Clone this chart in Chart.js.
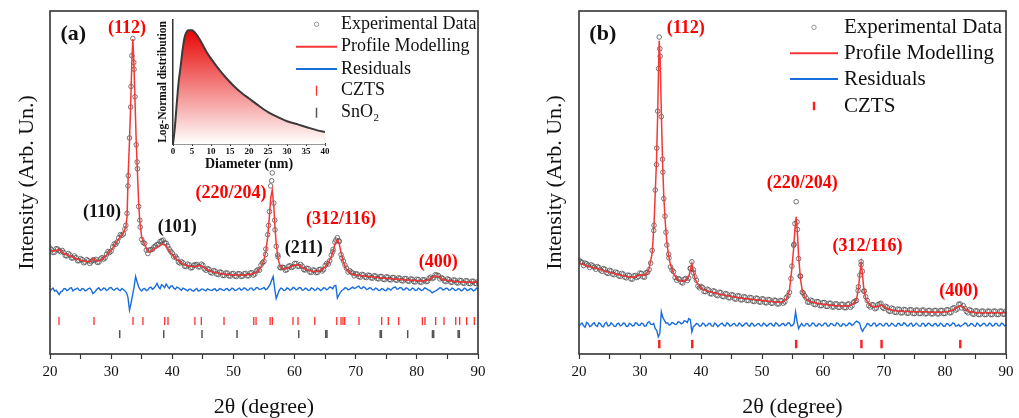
<!DOCTYPE html>
<html>
<head>
<meta charset="utf-8">
<script src="https://cdn.jsdelivr.net/npm/chart.js@4.4.0/dist/chart.umd.min.js"></script>
<style>
  html, body { margin: 0; padding: 0; background: #fff; }
  #wrap { position: relative; width: 1019px; height: 418px; background: #fff; }
  canvas { position: absolute; top: 0; }
  #chartA { left: 0; }
  #chartB { left: 510px; }
  #inset { left: 140px; }
</style>
</head>
<body>
<div id="wrap">
  <canvas id="chartA" width="510" height="418"></canvas>
  <canvas id="chartB" width="509" height="418"></canvas>
  <canvas id="inset" width="200" height="175"></canvas>
</div>
<script>
// ---- panel (a) : 2theta grid, profile fit, measured points ----
var aTheta = [
  20,20.5,21,21.5,22,22.5,23,23.5,24,24.5,
  25,25.5,26,26.5,27,27.5,28,28.5,29,29.5,
  30,30.5,31,31.5,32,32.4,32.6,32.8,33.0,33.2,
  33.4,33.55,33.7,33.9,34.1,34.3,34.5,34.7,35,35.5,
  36,36.5,37,37.5,38,38.5,39,39.5,40,40.5,
  41,41.5,42,42.5,43,43.5,44,44.5,45,45.5,
  46,46.5,47,47.5,48,48.5,49,49.5,50,50.5,
  51,51.5,52,52.5,53,53.5,54,54.5,55,55.3,
  55.6,55.9,56.1,56.35,56.6,56.8,57.0,57.3,57.6,58,
  58.5,59,59.5,60,60.5,61,61.5,62,62.5,63,
  63.5,64,64.5,65,65.5,66,66.3,66.6,67.0,67.3,
  67.6,68,68.5,69,69.5,70,70.5,71,71.5,72,
  72.5,73,73.5,74,74.5,75,75.5,76,76.5,77,
  77.5,78,78.5,79,79.5,80,80.5,81,81.5,82,
  82.5,83,83.5,84,84.5,85,85.5,86,86.5,87,
  87.5,88,88.5,89,89.5,90
];
var aModel = [
  30.3,30.0,30.2,30.5,29.6,29.1,28.8,28.4,28.0,27.6,
  27.3,27.1,27.0,26.9,27.9,27.1,27.2,27.6,28.3,29.4,
  30.3,31.6,33.0,34.2,35.3,37.0,40.0,53.0,62.0,73.0,
  86.0,91.8,86.0,74.0,62.0,53.0,44.0,38.5,34.0,31.8,
  29.8,29.9,30.6,31.0,31.6,32.1,31.5,30.0,29.0,28.0,
  27.2,26.5,26.0,25.7,25.5,25.5,25.6,25.8,25.4,24.8,
  24.3,24.0,23.8,23.6,23.4,23.3,23.2,23.1,23.1,23.0,
  23.0,23.0,23.1,23.2,23.3,23.6,24.2,25.4,27.5,30.0,
  34.0,40.5,45.5,47.8,43.0,37.0,32.0,27.8,25.8,24.9,
  24.8,25.2,25.6,25.9,26.0,25.6,25.0,24.6,24.3,24.1,
  24.0,24.2,24.6,25.4,26.6,28.3,30.0,32.0,33.4,32.2,
  29.5,26.6,24.6,23.8,23.2,23.0,22.9,22.8,22.7,22.6,
  22.5,22.4,22.3,22.2,22.1,22.1,22.0,21.9,21.9,21.8,
  21.7,21.6,21.6,21.5,21.4,21.4,21.3,21.3,21.4,21.7,
  22.3,22.7,22.5,21.9,21.6,21.5,21.3,21.2,21.1,21.1,
  21.0,21.0,20.9,20.9,20.9,20.9
];
var aExp = [
  30.9,29.6,30.7,30.1,30.2,28.7,29.3,28.0,28.6,27.2,
  27.8,26.6,27.5,26.4,27.4,27.6,26.8,28.1,28.0,29.9,
  30.0,32.1,32.7,34.8,35.0,37.5,41.0,52.0,63.0,72.0,
  87.0,92.0,85.0,75.0,61.0,54.0,43.0,39.0,33.4,32.2,
  29.3,30.4,31.2,31.9,32.8,33.2,32.3,30.6,29.4,28.5,
  26.8,26.9,25.6,26.2,25.1,25.9,26.1,25.4,25.9,24.4,
  24.7,23.6,24.2,23.2,23.8,22.9,23.6,22.7,23.5,22.6,
  23.4,22.7,23.5,22.8,23.7,23.3,24.6,25.9,27.0,30.6,
  34.8,41.5,49.0,52.8,44.0,36.2,31.4,28.3,25.3,25.3,
  24.4,25.6,25.2,26.4,25.6,26.1,24.6,25.0,23.9,24.5,
  23.7,24.6,24.2,25.8,26.2,28.8,30.5,32.6,33.9,32.8,
  29.0,27.1,25.0,24.3,23.6,23.4,22.6,23.2,22.4,23.0,
  22.2,22.8,22.0,22.6,21.8,22.5,21.7,22.3,21.6,22.2,
  21.4,22.0,21.3,21.9,21.1,21.8,21.0,21.7,21.1,22.1,
  22.0,23.1,22.9,22.3,21.3,21.9,21.0,21.6,20.8,21.5,
  20.7,21.4,20.6,21.2,20.6,21.1
];

// ---- 0.5 deg grid (residuals) and the in-between 0.25 offsets ----
var residTheta = [
  20,20.5,21,21.5,22,22.5,23,23.5,24,24.5,
  25,25.5,26,26.5,27,27.5,28,28.5,29,29.5,
  30,30.5,31,31.5,32,32.5,33,33.5,34,34.5,
  35,35.5,36,36.5,37,37.5,38,38.5,39,39.5,
  40,40.5,41,41.5,42,42.5,43,43.5,44,44.5,
  45,45.5,46,46.5,47,47.5,48,48.5,49,49.5,
  50,50.5,51,51.5,52,52.5,53,53.5,54,54.5,
  55,55.5,56,56.5,57,57.5,58,58.5,59,59.5,
  60,60.5,61,61.5,62,62.5,63,63.5,64,64.5,
  65,65.5,66,66.5,67,67.5,68,68.5,69,69.5,
  70,70.5,71,71.5,72,72.5,73,73.5,74,74.5,
  75,75.5,76,76.5,77,77.5,78,78.5,79,79.5,
  80,80.5,81,81.5,82,82.5,83,83.5,84,84.5,
  85,85.5,86,86.5,87,87.5,88,88.5,89,89.5,
  90
];
var midTheta = [
  20.25,20.75,21.25,21.75,22.25,22.75,23.25,23.75,24.25,24.75,
  25.25,25.75,26.25,26.75,27.25,27.75,28.25,28.75,29.25,29.75,
  30.25,30.75,31.25,31.75,32.25,32.75,33.25,33.75,34.25,34.75,
  35.25,35.75,36.25,36.75,37.25,37.75,38.25,38.75,39.25,39.75,
  40.25,40.75,41.25,41.75,42.25,42.75,43.25,43.75,44.25,44.75,
  45.25,45.75,46.25,46.75,47.25,47.75,48.25,48.75,49.25,49.75,
  50.25,50.75,51.25,51.75,52.25,52.75,53.25,53.75,54.25,54.75,
  55.25,55.75,56.25,56.75,57.25,57.75,58.25,58.75,59.25,59.75,
  60.25,60.75,61.25,61.75,62.25,62.75,63.25,63.75,64.25,64.75,
  65.25,65.75,66.25,66.75,67.25,67.75,68.25,68.75,69.25,69.75,
  70.25,70.75,71.25,71.75,72.25,72.75,73.25,73.75,74.25,74.75,
  75.25,75.75,76.25,76.75,77.25,77.75,78.25,78.75,79.25,79.75,
  80.25,80.75,81.25,81.75,82.25,82.75,83.25,83.75,84.25,84.75,
  85.25,85.75,86.25,86.75,87.25,87.75,88.25,88.75,89.25,89.75
];
var aExpMid = [
  30.4,29.7,30.6,29.8,29.6,28.6,28.9,28.0,28.1,27.2,
  27.5,26.8,27.2,26.9,27.3,26.7,27.7,27.7,29.1,29.6,
  31.2,32.0,33.9,34.6,36.4,49.0,78.0,83.0,56.0,37.0,
  32.5,30.3,30.3,30.5,31.5,32.0,33.0,32.4,31.5,29.9,
  28.3,27.9,26.5,26.6,25.5,26.0,25.2,26.0,25.4,26.2,
  24.8,24.9,23.8,24.3,23.3,23.9,22.9,23.6,22.8,23.4,
  22.7,23.4,22.6,23.4,22.8,23.6,23.0,24.2,24.4,26.6,
  29.0,37.5,50.5,39.0,28.9,25.1,25.2,24.6,25.7,25.4,
  26.4,25.5,25.6,24.5,24.9,23.8,24.4,23.8,24.7,24.6,
  26.4,27.2,29.8,33.2,33.0,28.0,25.9,23.9,23.9,22.8,
  23.3,22.4,23.1,22.3,22.9,22.1,22.7,21.9,22.6,21.7,
  22.4,21.6,22.3,21.5,22.1,21.3,22.0,21.2,21.8,21.0,
  21.7,20.9,21.6,21.2,22.4,22.2,23.0,21.9,22.0,21.1,
  21.7,20.9,21.5,20.7,21.4,20.6,21.3,20.5,21.2,20.5
];
var aResid = [
  18.4,19.2,18.6,17.3,18.3,19.1,18.7,19.3,18.8,19.2,
  18.5,19.0,18.6,19.2,17.6,18.5,19.3,18.7,19.1,18.8,
  19.4,18.6,19.2,18.5,18.8,17.9,12.8,17.2,22.6,19.6,
  18.4,19.1,18.7,19.5,19.2,20.6,19.0,19.8,20.4,19.1,
  19.9,18.9,19.3,18.6,19.0,18.4,18.9,18.3,19.1,18.5,
  18.9,18.4,18.8,18.5,19.0,18.6,18.9,18.5,19.1,18.7,
  19.0,18.6,19.2,18.8,19.1,18.7,19.2,18.8,19.3,18.9,
  19.4,19.0,20.3,22.6,16.2,18.6,19.0,18.6,19.1,18.8,
  19.2,18.9,19.3,18.7,19.0,18.6,19.1,18.7,19.0,18.8,
  19.2,19.0,19.4,19.9,16.3,18.0,18.8,19.2,18.9,19.5,
  19.3,19.8,19.1,19.4,18.9,19.2,18.7,19.0,18.6,18.9,
  18.5,18.9,19.1,19.5,19.0,19.3,18.8,19.1,18.7,19.0,
  18.6,18.9,18.7,19.1,18.6,17.8,18.3,18.9,19.2,18.8,
  19.1,18.7,19.0,18.6,18.9,18.6,19.0,18.7,18.9,18.6,
  18.9
];
var aResidMid = [
  18.9,18.3,18.0,18.1,19.0,18.5,19.2,18.4,19.0,18.6,
  19.1,18.4,19.0,18.7,17.9,19.0,18.6,19.2,18.5,19.3,
  18.8,19.0,18.7,19.1,18.4,16.5,14.8,19.5,21.0,18.8,
  19.0,18.5,19.3,18.9,19.8,19.6,20.2,19.3,19.7,19.8,
  19.2,19.5,18.9,19.2,18.7,18.9,18.5,18.8,18.4,18.9,
  18.6,19.0,18.6,18.9,18.4,19.1,18.6,19.0,18.5,19.2,
  18.5,19.0,18.6,19.3,18.6,19.2,18.6,19.4,18.8,19.1,
  18.8,19.6,21.5,19.0,17.4,19.2,18.5,19.3,18.6,19.4,
  18.7,19.4,18.6,19.2,18.5,19.3,18.6,19.2,18.5,19.3,
  18.7,19.5,19.0,20.0,17.2,18.6,19.3,18.7,19.2,19.1,
  19.6,19.2,19.6,18.8,19.3,18.7,19.2,18.5,19.1,18.5,
  19.2,18.6,19.4,18.9,19.4,18.7,19.3,18.6,19.2,18.5,
  19.2,18.5,19.3,18.8,18.3,18.1,18.6,19.3,18.7,19.2,
  18.6,19.2,18.5,19.1,18.4,19.2,18.5,19.1,18.4,19.2
];

// reflection positions (deg)
var cztsA = [21.47,27.2,33.58,35.2,38.76,39.3,43.7,44.75,48.46,53.32,53.7,56.0,56.36,59.74,60.56,63.3,
             66.9,67.6,67.92,68.2,70.54,74.25,75.33,77.03,80.9,81.33,83.08,84.44,86.36,87.0,88.15,89.4];
var sno2A = [31.4,38.6,44.86,50.59,60.68,65.1,65.3,74.0,74.2,78.5,82.55,82.75,86.75,86.95];

var peakTextA  = ['(112)','(110)','(101)','(220/204)','(211)','(312/116)','(400)'];
var peakThetaA = [32.6, 28.5, 40.8, 49.6, 61.5, 67.6, 83.5];
var peakLevelA = [95.0, 41.4, 36.9, 46.9, 30.8, 39.3, 26.6];
var peakPhaseA = ['CZTS','SnO2','SnO2','CZTS','SnO2','CZTS','CZTS'];

// ---- panel (b) ----
var bTheta = [
  20,20.5,21,21.5,22,22.5,23,23.5,24,24.5,
  25,25.5,26,26.5,27,27.5,28,28.5,29,29.5,
  30,30.5,31,31.5,32,32.3,32.5,32.7,32.9,33.05,
  33.15,33.3,33.5,33.7,33.9,34.1,34.4,34.7,35,35.5,
  36,36.5,37,37.5,38,38.25,38.5,38.75,39,39.5,
  40,40.5,41,41.5,42,42.5,43,43.5,44,44.5,
  45,45.5,46,46.5,47,47.5,48,48.5,49,49.5,
  50,50.5,51,51.5,52,52.5,53,53.5,54,54.5,
  54.9,55.2,55.4,55.6,55.8,56.0,56.3,56.6,57,57.5,
  58,58.5,59,59.5,60,60.5,61,61.5,62,62.5,
  63,63.5,64,64.5,65,65.5,65.8,66.05,66.25,66.45,
  66.7,67,67.5,68,68.5,69,69.5,70,70.5,71,
  71.5,72,72.5,73,73.5,74,74.5,75,75.5,76,
  76.5,77,77.5,78,78.5,79,79.5,80,80.5,81,
  81.5,82,82.5,83,83.5,84,84.5,85,85.5,86,
  86.5,87,87.5,88,88.5,89,89.5,90
];
var bModel = [
  26.6,26.2,25.9,25.6,25.4,25.1,24.9,24.6,24.3,24.0,
  23.8,23.6,23.3,23.1,22.9,22.7,22.5,22.4,22.4,22.8,
  23.1,22.9,23.2,25.0,29.5,38.0,47.0,56.0,70.0,84.0,
  91.3,86.0,70.0,56.0,46.0,39.5,32.5,28.5,26.0,23.5,
  22.0,21.3,21.2,21.5,22.6,24.5,26.4,24.2,22.0,20.3,
  19.2,18.7,18.4,18.1,17.9,17.7,17.5,17.3,17.1,16.9,
  16.8,16.6,16.5,16.3,16.2,16.1,16.0,15.9,15.8,15.7,
  15.6,15.5,15.4,15.3,15.2,15.1,15.1,15.3,16.0,18.5,
  25.0,31.0,36.5,40.0,35.5,28.5,22.0,18.5,16.5,15.6,
  15.2,15.0,14.8,14.6,14.5,14.4,14.3,14.2,14.1,14.1,
  14.0,14.0,14.0,14.1,14.6,16.0,19.0,23.5,26.4,23.5,
  18.8,16.2,14.6,13.9,13.7,13.9,14.3,13.8,13.2,12.9,
  12.7,12.6,12.5,12.5,12.4,12.4,12.4,12.3,12.3,12.3,
  12.3,12.3,12.2,12.2,12.2,12.2,12.2,12.3,12.4,12.6,
  13.0,13.6,14.1,13.6,12.9,12.4,12.2,12.1,12.0,12.0,
  12.0,12.0,12.0,12.0,12.0,12.0,12.0,12.1
];
var bExp = [
  27.4,26.7,26.5,25.9,26.0,25.3,25.5,24.5,24.9,23.7,
  24.4,23.3,23.9,22.8,23.5,22.4,23.0,21.9,22.8,22.3,
  23.6,22.5,23.7,24.6,30.2,37.5,47.8,55.2,70.8,83.2,
  92.4,86.8,69.2,56.8,45.3,40.2,31.8,29.1,25.4,24.0,
  21.5,21.8,20.7,22.0,22.1,25.0,26.9,23.7,22.5,19.8,
  19.7,18.2,18.9,17.6,18.4,17.2,18.0,16.8,17.6,16.4,
  17.3,16.1,17.0,15.8,16.7,15.6,16.5,15.4,16.3,15.2,
  16.1,15.0,15.9,14.8,15.7,14.6,15.6,14.8,16.5,18.0,
  25.6,31.7,38.0,44.4,36.3,27.8,22.6,18.0,17.0,15.1,
  15.7,14.5,15.3,14.1,15.0,13.9,14.8,13.7,14.6,13.6,
  14.5,13.5,14.5,13.6,15.1,15.6,19.6,23.0,26.9,24.1,
  18.3,16.7,14.1,14.4,13.2,14.4,14.8,13.3,13.7,12.4,
  13.2,12.1,13.0,12.0,12.9,11.9,12.9,11.8,12.8,11.8,
  12.8,11.8,12.7,11.7,12.7,11.7,12.7,11.8,12.9,12.1,
  13.5,13.1,14.6,14.1,12.4,12.9,11.7,12.6,11.5,12.5,
  11.5,12.5,11.5,12.5,11.5,12.5,11.6,12.5
];
var bExpMid = [
  26.9,25.8,26.3,25.2,25.7,24.7,25.2,24.1,24.7,23.5,
  24.2,23.1,23.7,22.6,23.3,22.2,22.9,21.8,22.9,22.6,
  23.5,22.4,23.8,26.5,36.0,60.0,89.0,53.0,35.5,28.0,
  24.5,22.3,22.0,20.9,21.8,21.4,24.9,24.6,21.5,19.3,
  19.4,18.2,18.7,17.5,18.3,17.0,17.9,16.7,17.5,16.4,
  17.2,16.0,16.9,15.8,16.6,15.6,16.4,15.3,16.2,15.1,
  16.0,14.9,15.8,14.8,15.6,14.6,15.5,15.2,17.0,22.0,
  32.0,38.5,22.8,17.8,16.3,15.1,15.5,14.4,15.2,14.1,
  15.0,13.9,14.8,13.7,14.6,13.6,14.5,13.5,14.6,14.0,
  15.4,18.5,26.0,18.4,15.6,13.7,14.3,13.4,14.6,13.6,
  13.9,12.6,13.4,12.2,13.1,12.0,13.0,11.9,12.9,11.8,
  12.8,11.8,12.8,11.7,12.7,11.7,12.7,11.7,12.7,11.8,
  12.9,12.0,13.3,12.8,14.5,13.4,13.3,12.0,12.7,11.6,
  12.5,11.5,12.5,11.5,12.5,11.5,12.5,11.5,12.5,11.6
];
var bResid = [
  8.1,9.0,7.8,8.9,8.2,9.1,8.0,8.8,7.9,9.2,
  8.3,8.7,8.0,9.0,8.4,8.9,8.1,8.7,8.3,9.0,
  8.4,8.8,8.2,9.4,8.6,7.4,5.0,12.3,9.8,9.1,
  8.6,9.0,8.7,9.3,9.0,9.6,10.3,6.4,8.3,8.7,
  8.2,8.8,8.3,8.9,8.1,8.7,8.4,9.0,8.2,8.8,
  8.3,8.9,8.2,8.7,8.4,9.0,8.1,8.8,8.3,8.9,
  8.2,8.7,8.4,8.9,8.2,8.8,8.3,8.9,8.5,9.0,
  8.3,12.3,7.4,8.9,8.2,8.8,8.3,8.9,8.1,8.7,
  8.4,9.0,8.2,8.8,8.3,8.9,8.1,8.7,8.4,8.9,
  8.6,9.6,9.0,6.6,8.0,8.7,8.3,9.0,8.4,8.8,
  8.2,8.9,8.3,8.7,8.1,8.9,8.4,8.8,8.2,9.0,
  8.3,8.7,8.1,8.9,8.4,8.8,8.2,8.9,8.3,8.7,
  8.1,8.8,8.4,8.9,8.2,8.0,8.6,8.9,8.3,8.8,
  8.1,8.7,8.4,8.9,8.2,8.8,8.3,8.9,8.2,8.8,
  8.5
];
var bResidMid = [
  8.7,8.2,9.2,8.0,8.8,8.3,9.1,8.1,8.9,8.2,
  9.1,8.1,8.8,8.2,9.0,8.1,8.9,8.2,9.1,8.4,
  9.0,8.1,9.1,8.7,8.9,6.8,6.0,10.6,9.0,8.5,
  9.2,8.6,9.4,8.8,9.7,9.2,10.0,8.0,8.9,8.1,
  9.0,8.1,8.9,8.2,9.0,8.0,8.8,8.3,9.1,8.1,
  8.8,8.2,9.0,8.1,8.9,8.3,9.0,8.1,8.8,8.2,
  9.0,8.1,8.9,8.3,9.1,8.2,8.8,8.3,9.1,8.2,
  8.9,9.5,8.2,8.2,8.9,8.1,9.0,8.2,8.8,8.2,
  9.0,8.1,8.9,8.3,9.1,8.2,8.8,8.2,9.0,8.3,
  9.2,9.3,7.4,7.5,8.9,8.2,9.0,8.1,8.9,8.2,
  8.9,8.1,9.0,8.2,8.9,8.3,9.1,8.2,8.8,8.1,
  9.0,8.2,8.9,8.1,9.0,8.3,8.8,8.2,9.0,8.1,
  8.9,8.2,9.0,8.1,8.6,8.3,9.0,8.1,8.9,8.2,
  9.0,8.1,8.9,8.2,9.0,8.1,8.9,8.2,9.0,8.2
];
var cztsB = [33.16, 38.56, 55.6, 66.3, 69.6, 82.5];

var peakTextB  = ['(112)','(220/204)','(312/116)','(400)'];
var peakThetaB = [37.5, 56.6, 67.3, 82.25];
var peakLevelB = [95.0, 49.8, 31.5, 18.2];
var peakPhaseB = ['CZTS','CZTS','CZTS','CZTS'];

// ---- inset: crystallite size distribution ----
var insetDiameter = [0,0.5,1,1.5,2,2.5,3,3.5,4,4.5,5,5.5,6,7,8,9,10,12,14,16,18,20,22,25,28,30,33,35,38,40];
var insetDensity  = [0,0.15,0.36,0.55,0.68,0.82,0.93,0.98,1.0,1.0,1.0,0.99,0.97,0.92,0.86,0.8,0.75,0.66,0.58,0.51,0.45,0.40,0.35,0.28,0.23,0.20,0.17,0.15,0.12,0.105];

var SERIF = '"Liberation Serif", "Times New Roman", serif';
var RED = 'rgb(245,55,55)';
var BLUE = 'rgb(25,110,222)';

function pts(xs, ys) {
  return xs.map(function (x, i) { return { x: x, y: ys[i] }; });
}
function row(xs, level) {
  return xs.map(function (x) { return { x: x, y: level }; });
}
function byX(a, b) { return a.x - b.x; }

function panelDatasets(p) {
  var ds = [
    { label: 'Experimental Data', data: pts(p.theta, p.exp).concat(pts(midTheta, p.expMid)),
      showLine: false, order: 2,
      pointStyle: 'circle', pointRadius: 2.3, pointBorderWidth: 0.9,
      pointBorderColor: 'rgba(75,75,75,0.85)', pointBackgroundColor: 'rgba(0,0,0,0)' },
    { label: 'Profile Modelling', data: pts(p.theta, p.model), showLine: true, order: 0,
      borderColor: RED, borderWidth: 1.5, pointRadius: 0 },
    { label: 'Residuals', data: pts(residTheta, p.resid).concat(pts(midTheta, p.residMid)).sort(byX),
      showLine: true, order: 1, borderColor: BLUE, borderWidth: 1.4, pointRadius: 0 }
  ];
  p.phases.forEach(function (ph) {
    ds.push({ label: ph.label, data: row(ph.pos, ph.level), showLine: false, order: 3,
      pointStyle: 'line', pointRotation: 90, pointRadius: ph.half,
      pointBorderWidth: ph.width, pointBorderColor: ph.color });
  });
  return ds;
}

function decor(cfg) {
  return {
    id: 'decor_' + cfg.name,
    afterDatasetsDraw: function (chart) {
      var c = chart.ctx, a = chart.chartArea, sx = chart.scales.x, sy = chart.scales.y;
      c.save();
      c.strokeStyle = '#333';
      c.lineWidth = 1.6;
      c.strokeRect(a.left, a.top, a.right - a.left, a.bottom - a.top);

      c.textAlign = 'center';
      c.textBaseline = 'middle';
      c.font = 'bold 22px ' + SERIF;
      c.fillStyle = '#111';
      c.fillText(cfg.panel, sx.getPixelForValue(cfg.panelAt[0]), sy.getPixelForValue(cfg.panelAt[1]));
      c.font = 'bold 18px ' + SERIF;
      cfg.text.forEach(function (t, i) {
        c.fillStyle = cfg.phase[i] === 'CZTS' ? '#ff0000' : '#111';
        c.fillText(t, sx.getPixelForValue(cfg.theta[i]), sy.getPixelForValue(cfg.level[i]));
      });

      var lg = cfg.legend, mid = (lg.x0 + lg.x1) / 2;
      c.textAlign = 'left';
      chart.data.datasets.forEach(function (ds, i) {
        var y = lg.rows[i];
        if (y === undefined) return;
        c.beginPath();
        if (ds.showLine) {
          c.strokeStyle = ds.borderColor; c.lineWidth = 2;
          c.moveTo(lg.x0, y); c.lineTo(lg.x1, y);
        } else if (ds.pointStyle === 'line') {
          c.strokeStyle = ds.pointBorderColor; c.lineWidth = ds.pointBorderWidth;
          c.moveTo(mid, y - lg.tick); c.lineTo(mid, y + lg.tick);
        } else {
          c.strokeStyle = 'rgba(95,95,95,0.8)'; c.lineWidth = 0.8;
          c.arc(mid, y, 2.2, 0, Math.PI * 2);
        }
        c.stroke();
        c.fillStyle = '#111';
        var parts = ds.label.split('\u2082');
        c.font = lg.size + 'px ' + SERIF;
        c.fillText(parts[0], lg.textX, y);
        if (parts.length > 1) {
          var w = c.measureText(parts[0]).width;
          c.font = Math.round(lg.size * 0.62) + 'px ' + SERIF;
          c.fillText('2', lg.textX + w + 0.5, y + lg.size * 0.3);
        }
      });
      c.restore();
    }
  };
}

function mainChart(id, datasets, cfg) {
  return new Chart(document.getElementById(id), {
    type: 'scatter',
    data: { datasets: datasets },
    options: {
      responsive: false, animation: false, events: [],
      layout: { padding: { top: 11, right: cfg.padRight, bottom: 0, left: 0 } },
      plugins: { legend: { display: false }, tooltip: { enabled: false } },
      scales: {
        x: {
          type: 'linear', min: 20, max: 90,
          afterFit: function (s) { s.height = 64; },
          ticks: { stepSize: 5, autoSkip: false, maxRotation: 0, padding: 4, color: '#111',
                   font: { family: SERIF, size: 15 },
                   callback: function (v) { return v % 10 === 0 ? v : ''; } },
          grid: { display: true, drawOnChartArea: false, drawTicks: true, tickLength: 5,
                  tickColor: '#333', tickWidth: 1.2 },
          border: { display: false },
          title: { display: true, text: '2\u03B8 (degree)', color: '#111',
                   font: { family: SERIF, size: 22, lineHeight: 1 }, padding: { top: 0, bottom: 0 } }
        },
        y: {
          type: 'linear', min: 0, max: 100,
          afterFit: function (s) { s.width = cfg.axisWidth; },
          ticks: { display: false },
          grid: { display: false },
          border: { display: false },
          title: { display: true, text: 'Intensity (Arb. Un.)', color: '#111',
                   font: { family: SERIF, size: 22, lineHeight: 1 }, padding: { top: cfg.titlePad, bottom: 0 } }
        }
      }
    },
    plugins: [decor(cfg)]
  });
}

mainChart('chartA',
  panelDatasets({ theta: aTheta, exp: aExp, expMid: aExpMid, model: aModel, resid: aResid, residMid: aResidMid,
    phases: [
      { label: 'CZTS', pos: cztsA, level: 9.6, half: 4, width: 1.3, color: 'rgb(255,45,45)' },
      { label: 'SnO\u2082', pos: sno2A, level: 5.8, half: 4, width: 1.5, color: '#555' }
    ] }),
  { name: 'a', padRight: 32, axisWidth: 50, titlePad: 16,
    panel: '(a)', panelAt: [23.8, 93.3],
    text: peakTextA, theta: peakThetaA, level: peakLevelA, phase: peakPhaseA,
    legend: { x0: 296, x1: 337, textX: 341, size: 18, tick: 5, rows: [24.3, 46.7, 69, 90.7, 112.7] } });

mainChart('chartB',
  panelDatasets({ theta: bTheta, exp: bExp, expMid: bExpMid, model: bModel, resid: bResid, residMid: bResidMid,
    phases: [
      { label: 'CZTS', pos: cztsB, level: 2.9, half: 4.2, width: 2.4, color: 'rgb(255,30,30)' }
    ] }),
  { name: 'b', padRight: 13, axisWidth: 69, titlePad: 34,
    panel: '(b)', panelAt: [23.9, 93.3],
    text: peakTextB, theta: peakThetaB, level: peakLevelB, phase: peakPhaseB,
    legend: { x0: 280, x1: 328, textX: 334, size: 21, tick: 4.2, rows: [27.3, 53.3, 79, 106] } });

new Chart(document.getElementById('inset'), {
  type: 'line',
  data: {
    datasets: [{
      data: pts(insetDiameter, insetDensity),
      borderColor: '#3a3a3a', borderWidth: 2, pointRadius: 0,
      cubicInterpolationMode: 'monotone',
      fill: 'origin',
      backgroundColor: function (ctx) {
        var area = ctx.chart.chartArea;
        if (!area) return 'rgba(255,0,0,0.5)';
        var g = ctx.chart.ctx.createLinearGradient(0, area.top + 8, 0, area.bottom);
        g.addColorStop(0, 'rgb(232,0,0)');
        g.addColorStop(1, 'rgb(255,255,255)');
        return g;
      }
    }]
  },
  options: {
    responsive: false, animation: false, events: [],
    layout: { padding: { top: 20, right: 15, bottom: 0, left: 0 } },
    plugins: { legend: { display: false }, tooltip: { enabled: false } },
    scales: {
      x: {
        type: 'linear', min: 0, max: 40,
        afterFit: function (s) { s.height = 31; },
        ticks: { stepSize: 5, autoSkip: false, maxRotation: 0, padding: 0, color: '#111',
                 font: { family: SERIF, size: 9, weight: 'bold' } },
        grid: { display: true, drawOnChartArea: false, tickLength: 2, tickColor: '#333' },
        border: { display: true, color: '#333', width: 1.5 },
        title: { display: true, text: 'Diameter (nm)', color: '#111',
                 font: { family: SERIF, size: 14, weight: 'bold', lineHeight: 1 }, padding: { top: 0, bottom: 4 } }
      },
      y: {
        type: 'linear', min: 0, max: 1.09,
        afterFit: function (s) { s.width = 33; },
        ticks: { display: false },
        grid: { display: false },
        border: { display: true, color: '#333', width: 1.5 },
        title: { display: true, text: 'Log-Normal distribution', color: '#111',
                 font: { family: SERIF, size: 11.5, weight: 'bold', lineHeight: 1 }, padding: { top: 17, bottom: 0 } }
      }
    }
  }
});
</script>
</body>
</html>
